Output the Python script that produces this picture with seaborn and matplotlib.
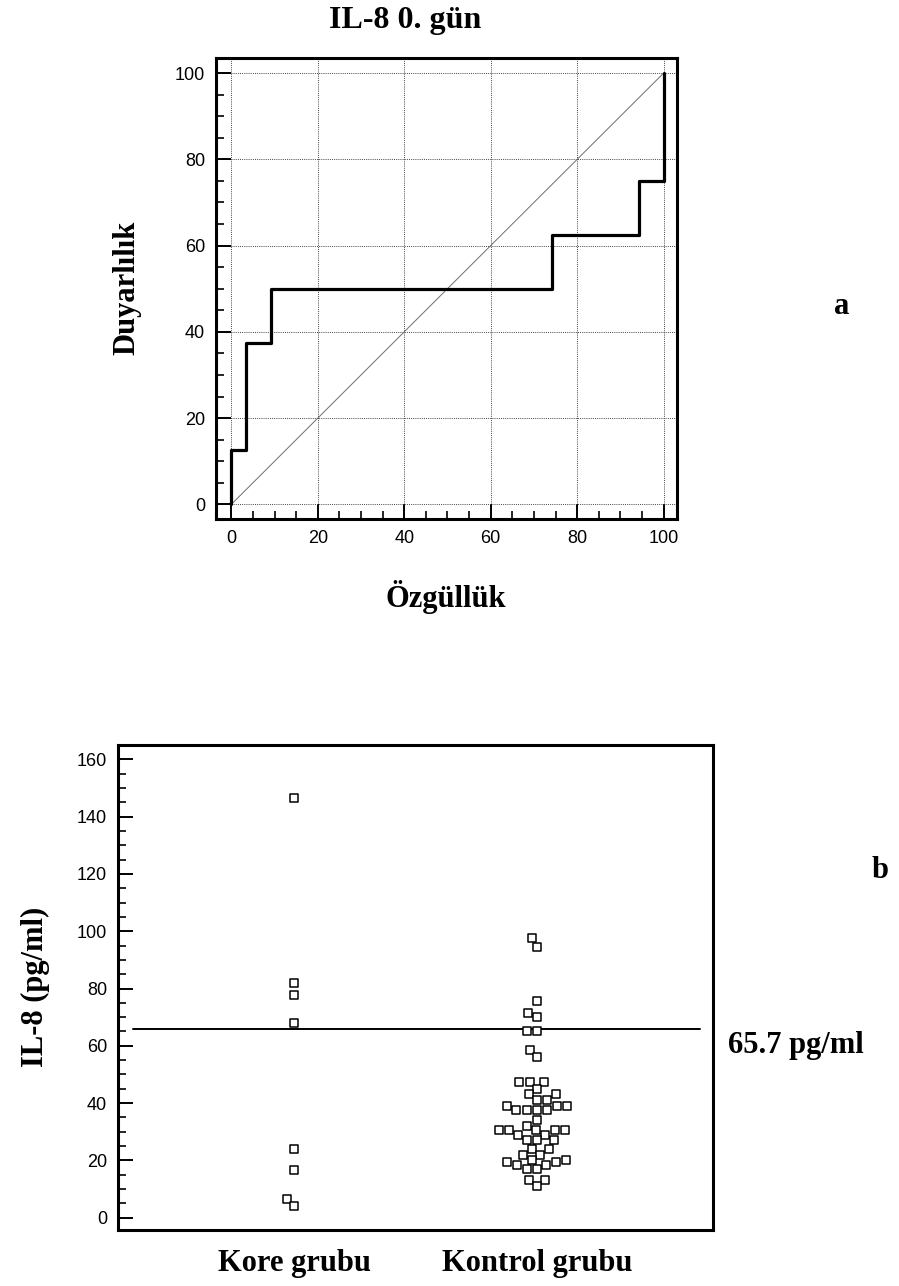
import matplotlib
matplotlib.use("Agg")
import matplotlib.pyplot as plt
import seaborn as sns
import pandas as pd
from matplotlib.ticker import MultipleLocator

# ---- data ----
roc_spec = [0, 3.4, 9.2, 74.2, 94.3, 100, 100]
roc_sens = [0, 12.5, 37.5, 50, 62.5, 75, 100]
diag = [0, 100]

groups = ["Kore grubu", "Kontrol grubu"]
kore = [146.5, 81.8, 77.7, 67.8, 24.1, 16.6, 6.6, 4.1]
kontrol = [97.5, 94.5, 75.5, 71.5, 70, 65, 65, 58.5, 56,
           47.5, 47.5, 47.5, 45, 43, 43, 41, 41, 39, 39, 39,
           37.5, 37.5, 37.5, 37.5, 34, 32, 30.5, 30.5, 30.5, 30.5, 30.5,
           29, 29, 27, 27, 27, 24, 24, 22, 22, 20, 20, 19.5, 19.5,
           18.5, 18.5, 17, 17, 13, 13, 11]
cutoff = 65.7

sns.set_theme(style="white")
plt.rcParams["font.family"] = ["Liberation Sans", "DejaVu Sans"]
plt.rcParams.update({"text.color": "black", "axes.labelcolor": "black",
                     "xtick.color": "black", "ytick.color": "black"})
serif = ["Liberation Serif", "DejaVu Serif"]

W, H = 899, 1286
fig = plt.figure(figsize=(W / 100, H / 100), dpi=100)

def fx(px):
    return px / W

def fy(py):
    return 1 - py / H

# ---- top: ROC ----
ax1 = fig.add_axes([fx(216), fy(519), 461 / W, 461 / H])
sns.lineplot(x=diag, y=diag, ax=ax1, color="#6e6e6e", lw=0.7,
             estimator=None, sort=False)
sns.lineplot(x=roc_spec, y=roc_sens, ax=ax1, color="black", lw=2.3,
             drawstyle="steps-pre", estimator=None, sort=False)
ax1.set_xlim(-3.55, 103.1)
ax1.set_ylim(-3.4, 103.5)
ax1.xaxis.set_major_locator(MultipleLocator(20))
ax1.yaxis.set_major_locator(MultipleLocator(20))
ax1.xaxis.set_minor_locator(MultipleLocator(5))
ax1.yaxis.set_minor_locator(MultipleLocator(5))
ax1.grid(True, which="major", linestyle=(0, (1, 1.2)), color="#444444", lw=0.7)
ax1.tick_params(which="major", direction="in", length=11, width=1.4,
                labelsize=13, pad=8, left=True, bottom=True,
                top=False, right=False, colors="black")
ax1.tick_params(which="minor", direction="in", length=6, width=1.2,
                left=True, bottom=True, top=False, right=False, colors="black")
for s in ax1.spines.values():
    s.set_linewidth(2.2)
    s.set_color("black")
ax1.set_xlabel("")
ax1.set_ylabel("")

fig.text(fx(405), fy(28), "IL-8 0. gün", family=serif, weight="bold",
         fontsize=23, ha="center", va="baseline", color="black")
fig.text(fx(446), fy(607), "Özgüllük", family=serif, weight="bold",
         fontsize=22, ha="center", va="baseline", color="black")
fig.text(fx(127), fy(288), "Duyarlılık", family=serif, weight="bold",
         fontsize=22, ha="center", va="center", rotation=90, color="black")
fig.text(fx(842), fy(307), "a", family=serif, weight="bold",
         fontsize=22, ha="center", va="center", color="black")

# ---- bottom: dot plot ----
df = pd.DataFrame({
    "grup": [groups[0]] * len(kore) + [groups[1]] * len(kontrol),
    "deger": kore + kontrol,
})
ax2 = fig.add_axes([fx(118), fy(1230), 595 / W, 485 / H])
sns.swarmplot(data=df, x="grup", y="deger", order=groups, ax=ax2,
              marker="s", size=6, color="white", edgecolor="black",
              linewidth=1.1)
ax2.axhline(cutoff, xmin=0.025, xmax=0.978, color="black", lw=1.4)
ax2.set_xlim(-0.725, 1.725)
ax2.set_ylim(-4.3, 165)
ax2.yaxis.set_major_locator(MultipleLocator(20))
ax2.yaxis.set_minor_locator(MultipleLocator(5))
ax2.tick_params(axis="y", which="major", direction="in", length=11,
                width=1.4, labelsize=13, pad=8, left=True, colors="black")
ax2.tick_params(axis="y", which="minor", direction="in", length=6,
                width=1.2, left=True, colors="black")
ax2.tick_params(axis="x", length=0, pad=14, colors="black")
for lab in ax2.get_xticklabels():
    lab.set_fontfamily(serif)
    lab.set_fontweight("bold")
    lab.set_fontsize(22)
for s in ax2.spines.values():
    s.set_linewidth(2.2)
    s.set_color("black")
ax2.set_xlabel("")
ax2.set_ylabel("")

fig.text(fx(35), fy(987), "IL-8 (pg/ml)", family=serif, weight="bold",
         fontsize=22, ha="center", va="center", rotation=90, color="black")
fig.text(fx(728), fy(1053), "65.7 pg/ml", family=serif, weight="bold",
         fontsize=22, ha="left", va="baseline", color="black")
fig.text(fx(880), fy(870), "b", family=serif, weight="bold",
         fontsize=22, ha="center", va="center", color="black")

fig.savefig("out.png", dpi=100, facecolor="white")
